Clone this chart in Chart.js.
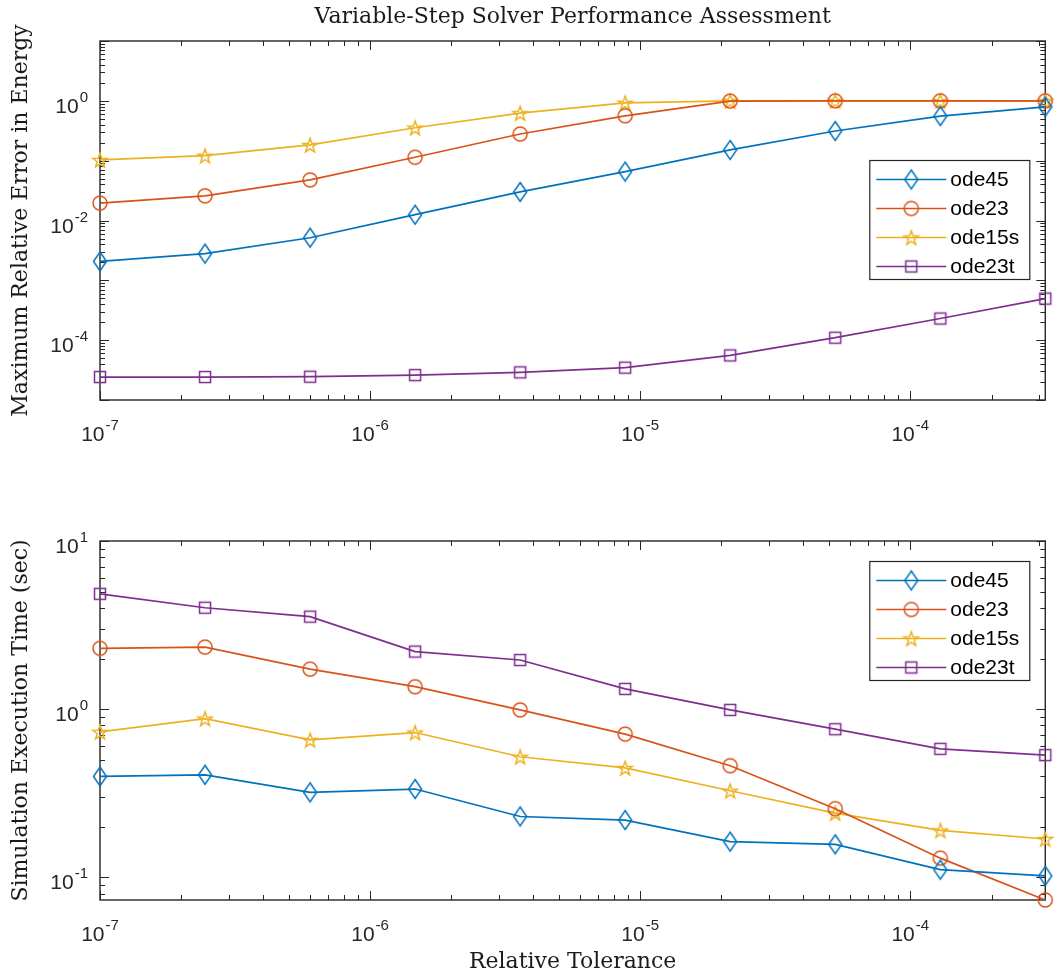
<!DOCTYPE html>
<html>
<head>
<meta charset="utf-8">
<title>Variable-Step Solver Performance Assessment</title>
<script src="https://cdn.jsdelivr.net/npm/chart.js@4.4.1/dist/chart.umd.min.js"></script>
<style>
  html, body { margin: 0; padding: 0; background: #fff; }
  canvas { display: block; }
</style>
</head>
<body>
<canvas id="errChart" width="1055" height="488"></canvas>
<canvas id="timeChart" width="1055" height="488"></canvas>
<script>
const tolerances = [1e-7, 2.448e-7, 5.995e-7, 1.468e-6, 3.594e-6, 8.799e-6, 2.154e-5, 5.275e-5, 1.292e-4, 3.162e-4];
const solvers = ['ode45', 'ode23', 'ode15s', 'ode23t'];

// maximum relative error in energy
const errOde45  = [2.07e-3, 2.79e-3, 5.15e-3, 0.0125, 0.030, 0.0656, 0.151, 0.313, 0.556, 0.794];
const errOde23  = [0.0195, 0.0258, 0.0477, 0.114, 0.279, 0.562, 0.99, 1.0, 1.0, 1.0];
const errOde15s = [0.103, 0.121, 0.183, 0.355, 0.624, 0.927, 1.0, 1.0, 1.0, 1.0];
const errOde23t = [2.42e-5, 2.42e-5, 2.45e-5, 2.61e-5, 2.9e-5, 3.47e-5, 5.56e-5, 1.1e-4, 2.3e-4, 4.95e-4];

// simulation execution time (sec)
const timeOde45  = [0.398, 0.407, 0.32, 0.335, 0.230, 0.219, 0.163, 0.157, 0.111, 0.102];
const timeOde23  = [2.30, 2.34, 1.73, 1.36, 0.99, 0.711, 0.461, 0.256, 0.130, 0.0733];
const timeOde15s = [0.733, 0.879, 0.657, 0.726, 0.521, 0.447, 0.327, 0.241, 0.190, 0.169];
const timeOde23t = [4.85, 4.01, 3.55, 2.20, 1.96, 1.32, 0.99, 0.76, 0.581, 0.533];

// labelled decades
const xTickExps = [-7, -6, -5, -4];
const errTickExps = [0, -2, -4];
const timeTickExps = [1, 0, -1];

const colors = ['#0072BD', '#D95319', '#EDB120', '#7E2F8E'];
const shapes = ['diamond', 'circle', 'star', 'square'];
const axisColor = '#262626';
const sansBig = '21px "Liberation Sans", Arial, sans-serif';
const sansSmall = '15px "Liberation Sans", Arial, sans-serif';
const serif = {family: '"DejaVu Serif", serif', size: 22, weight: 'normal'};

function markerImage(shape, color) {
  const c = document.createElement('canvas');
  c.width = 24; c.height = 24;
  const g = c.getContext('2d');
  const m = 12;
  g.strokeStyle = color;
  g.lineWidth = 1.5;
  g.beginPath();
  if (shape === 'diamond') {
    g.moveTo(m, m - 9.5); g.lineTo(m + 6.5, m); g.lineTo(m, m + 9.5); g.lineTo(m - 6.5, m); g.closePath();
  } else if (shape === 'circle') {
    g.arc(m, m, 7, 0, Math.PI * 2);
  } else if (shape === 'square') {
    g.rect(m - 5.5, m - 5.5, 11, 11);
  } else {
    for (let i = 0; i < 10; i++) {
      const r = i % 2 ? 3 : 7.5;
      const a = -Math.PI / 2 + i * Math.PI / 5;
      const px = m + r * Math.cos(a), py = m + 0.8 + r * Math.sin(a);
      if (i) g.lineTo(px, py); else g.moveTo(px, py);
    }
    g.closePath();
  }
  g.stroke();
  return c;
}
const markers = shapes.map((s, i) => markerImage(s, colors[i]));

function series(values, i) {
  return {
    label: solvers[i],
    data: tolerances.map((t, k) => ({x: t, y: values[k]})),
    borderColor: colors[i],
    borderWidth: 1.7,
    tension: 0,
    fill: false,
    clip: false,
    pointStyle: markers[i],
    pointRadius: 8,
    pointHoverRadius: 8
  };
}

function isDecade(v) {
  const l = Math.log10(v);
  return Math.abs(l - Math.round(l)) < 1e-6;
}

// MATLAB style: 1..9 x 10^n on log axes
function logTicks(scale) {
  const lo = Math.floor(Math.log10(scale.min)) - 1, hi = Math.ceil(Math.log10(scale.max));
  const out = [];
  for (let e = lo; e <= hi; e++) {
    for (let k = 1; k <= 9; k++) {
      const v = Number((k * Math.pow(10, e)).toPrecision(6));
      if (v >= scale.min * (1 - 1e-9) && v <= scale.max * (1 + 1e-9)) out.push({value: v});
    }
  }
  scale.ticks = out;
}

function powLabel(ctx, exp, x, baseline, align) {
  ctx.font = sansBig;
  const w1 = ctx.measureText('10').width;
  ctx.font = sansSmall;
  const sup = String(exp);
  const w2 = ctx.measureText(sup).width;
  const total = w1 + 1 + w2;
  const left = align === 'center' ? x - total / 2 : x - total;
  ctx.textAlign = 'left';
  ctx.textBaseline = 'alphabetic';
  ctx.font = sansBig;
  ctx.fillText('10', left, baseline);
  ctx.font = sansSmall;
  ctx.fillText(sup, left + w1 + 1, baseline - 11);
}

const matlabAxes = {
  id: 'matlabAxes',
  beforeDatasetsDraw(chart) {
    const {ctx, chartArea: a, scales: {x, y}} = chart;
    ctx.save();
    ctx.strokeStyle = axisColor;
    ctx.lineWidth = 1;
    ctx.beginPath();
    x.ticks.forEach(t => {
      const px = Math.round(x.getPixelForValue(t.value)) + 0.5;
      const len = isDecade(t.value) ? 9 : 5;
      ctx.moveTo(px, a.bottom); ctx.lineTo(px, a.bottom - len);
      ctx.moveTo(px, a.top); ctx.lineTo(px, a.top + len);
    });
    y.ticks.forEach(t => {
      const py = Math.round(y.getPixelForValue(t.value)) + 0.5;
      const len = isDecade(t.value) ? 9 : 5;
      ctx.moveTo(a.left, py); ctx.lineTo(a.left + len, py);
      ctx.moveTo(a.right, py); ctx.lineTo(a.right - len, py);
    });
    ctx.stroke();
    ctx.lineWidth = 1.4;
    ctx.strokeRect(a.left, a.top, a.right - a.left, a.bottom - a.top);
    ctx.restore();
  },
  afterDraw(chart, args, opts) {
    const {ctx, chartArea: a, scales: {x, y}} = chart;
    ctx.save();
    ctx.fillStyle = axisColor;
    opts.xExps.forEach(e => powLabel(ctx, e, x.getPixelForValue(Math.pow(10, e)), a.bottom + 41, 'center'));
    opts.yExps.forEach(e => powLabel(ctx, e, a.left - 12, y.getPixelForValue(Math.pow(10, e)) + 12, 'right'));

    // legend box
    const bl = a.right - 176, bt = a.top + opts.legendTop, bw = 160, bh = 119;
    ctx.fillStyle = '#fff';
    ctx.fillRect(bl, bt, bw, bh);
    ctx.strokeStyle = axisColor;
    ctx.lineWidth = 1.2;
    ctx.strokeRect(bl + 0.5, bt + 0.5, bw, bh);
    chart.data.datasets.forEach((ds, i) => {
      const cy = bt + 19.5 + i * 29;
      ctx.strokeStyle = ds.borderColor;
      ctx.lineWidth = 1.7;
      ctx.beginPath();
      ctx.moveTo(bl + 7, cy); ctx.lineTo(bl + 77, cy);
      ctx.stroke();
      ctx.drawImage(ds.pointStyle, bl + 42 - 12, cy - 12);
      ctx.fillStyle = '#000';
      ctx.font = sansBig;
      ctx.textAlign = 'left';
      ctx.textBaseline = 'middle';
      ctx.fillText(ds.label, bl + 81, cy + 1);
    });
    ctx.restore();
  }
};

function makeChart(id, cfg) {
  return new Chart(document.getElementById(id), {
    type: 'line',
    data: {datasets: cfg.values.map((v, i) => series(v, i))},
    options: {
      responsive: false,
      animation: false,
      events: [],
      layout: {padding: {top: cfg.padTop, right: 3, left: 0, bottom: 0}},
      scales: {
        x: {
          type: 'logarithmic', min: 1e-7, max: 3.162e-4,
          grid: {display: false}, border: {display: false}, ticks: {display: false},
          afterBuildTicks: logTicks,
          afterFit: s => { s.height = cfg.xHeight; },
          title: {display: !!cfg.xTitle, text: cfg.xTitle || '', font: serif, color: '#1a1a1a', padding: {top: 0, bottom: 1}}
        },
        y: {
          type: 'logarithmic', min: cfg.yMin, max: cfg.yMax,
          grid: {display: false}, border: {display: false}, ticks: {display: false},
          afterBuildTicks: logTicks,
          afterFit: s => { s.width = 100; },
          title: {display: true, text: cfg.yTitle, font: serif, color: '#1a1a1a', padding: {top: 8, bottom: 0}}
        }
      },
      plugins: {
        legend: {display: false},
        tooltip: {enabled: false},
        title: {
          display: !!cfg.title, text: cfg.title || '', font: serif, color: '#1a1a1a',
          fullSize: false,
          padding: {top: 4, bottom: 10.6}
        },
        matlabAxes: {xExps: xTickExps, yExps: cfg.yExps, legendTop: cfg.legendTop}
      }
    },
    plugins: [matlabAxes]
  });
}

makeChart('errChart', {
  values: [errOde45, errOde23, errOde15s, errOde23t],
  title: 'Variable-Step Solver Performance Assessment',
  yTitle: 'Maximum Relative Error in Energy',
  yMin: 1e-5, yMax: 10, yExps: errTickExps,
  padTop: 0, xHeight: 88, legendTop: 119
});

makeChart('timeChart', {
  values: [timeOde45, timeOde23, timeOde15s, timeOde23t],
  yTitle: 'Simulation Execution Time (sec)',
  xTitle: 'Relative Tolerance',
  yMin: 0.0733, yMax: 10, yExps: timeTickExps,
  padTop: 53, xHeight: 76, legendTop: 20
});
</script>
</body>
</html>
